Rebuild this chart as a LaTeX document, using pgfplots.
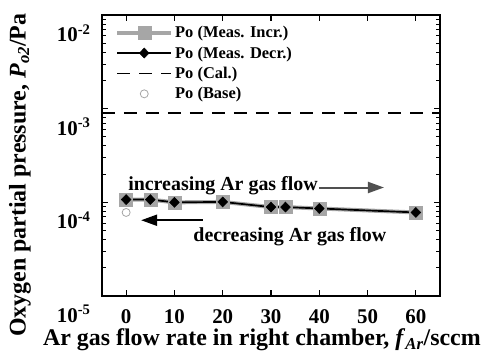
\documentclass[border=0pt]{standalone}
\usepackage{fontspec}
\setmainfont{Liberation Serif}
\usepackage{pgfplots}
\pgfplotsset{compat=1.18}
\usetikzlibrary{arrows.meta}
\definecolor{sqgray}{HTML}{A6A6A6}
\definecolor{arrowgray}{HTML}{505050}
\begin{document}
\begin{tikzpicture}
\begin{axis}[
 at={(0,0)}, anchor=south west,
 scale only axis, width=338bp, height=281bp,
 ymode=log, xmin=-5, xmax=65, ymin=1e-5, ymax=1e-2,
 xtick={0,10,...,60},
 ytick={1e-5,1e-4,1e-3,1e-2},
 minor ytick={2e-5,3e-5,4e-5,5e-5,6e-5,7e-5,8e-5,9e-5,2e-4,3e-4,4e-4,5e-4,6e-4,7e-4,8e-4,9e-4,2e-3,3e-3,4e-3,5e-3,6e-3,7e-3,8e-3,9e-3},
 yticklabels={10\textsuperscript{-5},10\textsuperscript{-4},10\textsuperscript{-3},10\textsuperscript{-2}},
 /pgf/number format/assume math mode=true,
 ticklabel style={font=\bfseries\fontsize{21}{23}\selectfont},
 yticklabel style={yshift=-18bp, xshift=-8bp},
 xticklabel style={yshift=-10bp},
 axis line style={line width=1.3bp},
 major tick style={line width=1.1bp, black},
 minor tick style={line width=0.9bp, black},
 major tick length=6bp, minor tick length=4bp,
 xlabel={Ar gas flow rate in right chamber, \textit{f}\textsubscript{\textit{Ar}}/sccm},
 ylabel={Oxygen partial pressure, \textit{P}\textsubscript{\textit{o2}}/Pa},
 label style={font=\bfseries\fontsize{24}{26}\selectfont},
 xlabel style={at={(axis description cs:0.473,-0.155)}, anchor=center},
 ylabel style={at={(axis description cs:-0.243,0.43)}, anchor=center},
 legend style={draw=none, fill=none, at={(axis description cs:0.03,0.975)}, anchor=north west,
   font=\bfseries\fontsize{16.5}{18}\selectfont, row sep=3.5bp},
 legend cell align=left,
 legend image code/.code={\draw[mark repeat=2,mark phase=2,#1] plot coordinates {(0cm,0cm)(0.95cm,0cm)(1.9cm,0cm)};},
]
\addplot[sqgray, line width=4bp, mark=square*, mark size=6.5bp, mark options={fill=sqgray, draw=sqgray, line width=0.5bp}]
 coordinates {(0,1.07e-4)(5,1.07e-4)(10,1.0e-4)(20,1.01e-4)(30,8.9e-5)(33,8.9e-5)(40,8.6e-5)(60,7.8e-5)};
\addlegendentry{Po (Meas. Incr.)}
\addplot[black, line width=1.7bp, mark=diamond*, mark size=5bp, mark options={xscale=1.3, line width=0.5bp}]
 coordinates {(0,1.07e-4)(5,1.07e-4)(10,1.0e-4)(20,1.01e-4)(30,8.9e-5)(33,8.9e-5)(40,8.6e-5)(60,7.8e-5)};
\addlegendentry{Po (Meas. Decr.)}
\addplot[black, line width=1.8bp, dash pattern=on 13bp off 9bp] coordinates {(-5,9e-4)(65,9e-4)};
\addlegendentry{Po (Cal.)}
\addplot[only marks, mark=o, mark size=4bp, mark options={draw=gray!70, line width=0.8bp}] coordinates {(0,7.8e-5)};
\addlegendentry{Po (Base)}
\node[anchor=west, font=\bfseries\fontsize{20}{22}\selectfont, inner sep=0] at (axis cs:0.4,1.52e-4) {increasing Ar gas flow};
\draw[-{Triangle[length=16bp,width=11bp]}, line width=2bp, arrowgray] (axis cs:39.9,1.44e-4) -- (axis cs:53.4,1.44e-4);
\node[anchor=west, font=\bfseries\fontsize{20}{22}\selectfont, inner sep=0] at (axis cs:13.9,4.35e-5) {decreasing Ar gas flow};
\draw[-{Triangle[length=16bp,width=11bp]}, line width=2bp, black] (axis cs:15.9,6.44e-5) -- (axis cs:3.1,6.44e-5);
\end{axis}
\pgfresetboundingbox
\path[use as bounding box] (-102bp,-60bp) rectangle (396bp,296bp);
\end{tikzpicture}
\end{document}
